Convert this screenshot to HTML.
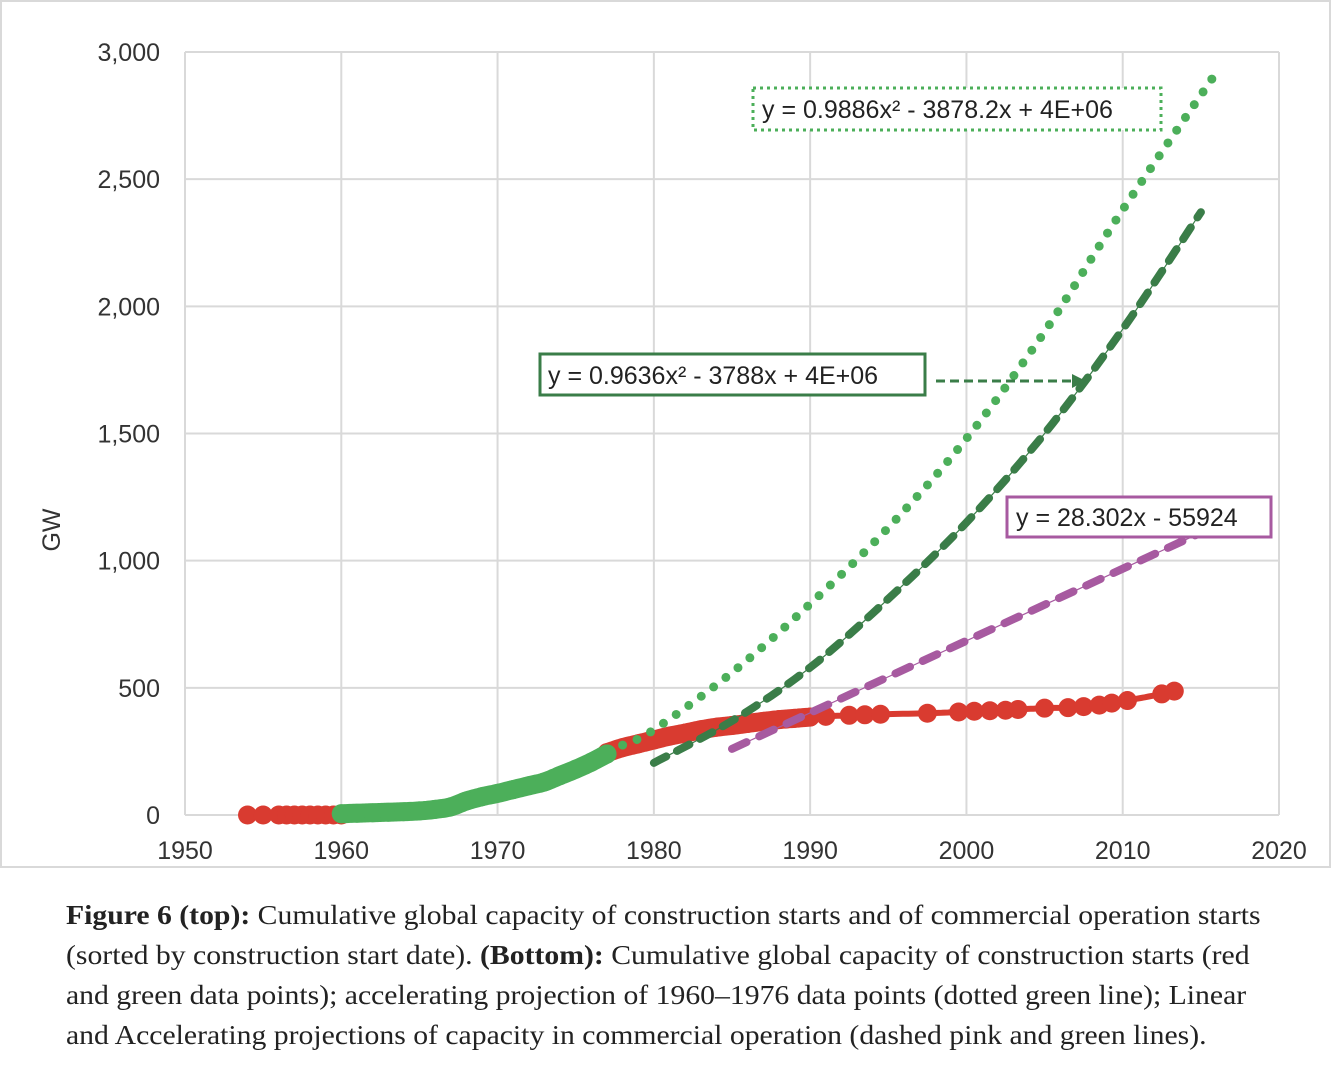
<!DOCTYPE html>
<html><head><meta charset="utf-8"><style>
body{margin:0;background:#fff;width:1331px;height:1068px;overflow:hidden;font-family:"Liberation Sans",sans-serif}
#cap{position:absolute;left:66px;top:895px;font-family:"Liberation Serif",serif;font-size:27px;line-height:40px;color:#222;white-space:nowrap;transform:scaleX(1.1);transform-origin:0 0}
</style></head><body>
<svg id="chart" width="1331" height="870" style="position:absolute;left:0;top:0">
<rect x="1" y="1" width="1329" height="866" fill="#fff" stroke="#d9d9d9" stroke-width="2"/>
<g id="grid"></g><g id="marks"></g><g id="labels"></g>
</svg>
<div id="cap"><b>Figure 6 (top):</b> Cumulative global capacity of construction starts and of commercial operation starts<br>(sorted by construction start date). <b>(Bottom):</b> Cumulative global capacity of construction starts (red<br>and green data points); accelerating projection of 1960–1976 data points (dotted green line); Linear<br>and Accelerating projections of capacity in commercial operation (dashed pink and green lines).</div>
<script>
const xTicks=[1950,1960,1970,1980,1990,2000,2010,2020];
const yTicks=[0,500,1000,1500,2000,2500,3000];
const yTickLabels=["0","500","1,000","1,500","2,000","2,500","3,000"];
const redYears=[1954,1955,1956,1956.5,1957,1957.5,1958,1958.5,1959,1959.5,1960,1977,1978,1979,1980,1981,1982,1983,1984,1985,1986,1987,1988,1989,1990,1991,1992.5,1993.5,1994.5,1997.5,1999.5,2000.5,2001.5,2002.5,2003.3,2005,2006.5,2007.5,2008.5,2009.3,2010.3,2012.5,2013.3];
const redValues=[0,0,0,0,0,0,0,0,0,0,0,245,265,280,295,310,322,335,345,352,360,368,375,380,385,388,392,394,396,400,405,408,410,412,415,420,422,426,432,440,450,476,487];
const greenYears=[1960,1961,1962,1963,1964,1965,1966,1967,1968,1969,1970,1971,1972,1973,1974,1975,1976,1977];
const greenValues=[5,7,9,11,13,16,22,32,55,72,85,100,115,130,155,180,208,240];
const dotYears=[1978,1980,1985,1990,1995,2000,2005,2010,2016];
const dotValues=[275,335,560,830,1130,1480,1900,2380,2920];
const dashYears=[1980,1985,1990,1995,2000,2005,2010,2015];
const dashValues=[205,370,580,850,1150,1500,1910,2370];
const linYears=[1985,2015];
const linValues=[260,1110];
const NS="http://www.w3.org/2000/svg";
const X=v=>185+(v-1950)*(1279-185)/70;
const Y=v=>815-v*(815-52)/3000;
function mk(p,t,a){const e=document.createElementNS(NS,t);for(const k in a)e.setAttribute(k,a[k]);p.appendChild(e);return e;}
const grid=document.getElementById('grid'),marks=document.getElementById('marks'),lab=document.getElementById('labels');
xTicks.forEach(t=>{const l=mk(grid,'line',{x1:X(t),x2:X(t),y1:52,y2:815,stroke:'#d9d9d9','stroke-width':2});

const tx=mk(lab,'text',{x:X(t),y:859,'text-anchor':'middle','font-size':25,fill:'#333'});tx.textContent=t;
});
yTicks.forEach((t,i)=>{const l=mk(grid,'line',{x1:185,x2:1279,y1:Y(t),y2:Y(t),stroke:'#d9d9d9','stroke-width':2});

const tx=mk(lab,'text',{x:160,y:Y(t)+9,'text-anchor':'end','font-size':25,fill:'#333'});tx.textContent=yTickLabels[i];
});
const yt=mk(lab,'text',{x:0,y:0,transform:'translate(60,530) rotate(-90)','text-anchor':'middle','font-size':25,fill:'#333'});yt.textContent='GW';

function smooth(xs,ys){let pts=[];for(let i=0;i<xs.length-1;i++){const n=10;for(let k=0;k<n;k++){const t=k/n;
const i0=Math.max(i-1,0),i3=Math.min(i+2,xs.length-1);const p=[i0,i,i+1,i3].map(j=>[X(xs[j]),Y(ys[j])]);
const c=(a,b,c2,d)=>0.5*((2*b)+(-a+c2)*t+(2*a-5*b+4*c2-d)*t*t+(-a+3*b-3*c2+d)*t*t*t);
pts.push([c(p[0][0],p[1][0],p[2][0],p[3][0]),c(p[0][1],p[1][1],p[2][1],p[3][1])]);}}
pts.push([X(xs[xs.length-1]),Y(ys[ys.length-1])]);return 'M'+pts.map(p=>p[0].toFixed(1)+','+p[1].toFixed(1)).join('L');}
const rl=mk(marks,'path',{d:smooth(redYears.slice(11),redValues.slice(11)),fill:'none',stroke:'#d93b30','stroke-width':6});

redYears.forEach((yr,i)=>{const c=mk(marks,'circle',{cx:X(yr),cy:Y(redValues[i]),r:9.5,fill:'#d93b30'});
});
const rb=mk(marks,'path',{d:smooth(redYears.slice(11,25),redValues.slice(11,25)),fill:'none',stroke:'#d93b30','stroke-width':19,'stroke-linecap':'round'});

const gb=mk(marks,'path',{d:smooth(greenYears,greenValues),fill:'none',stroke:'#4caf5a','stroke-width':19,'stroke-linecap':'round'});

greenYears.forEach((yr,i)=>{const c=mk(marks,'circle',{cx:X(yr),cy:Y(greenValues[i]),r:9.5,fill:'#4caf5a'});
});
const dt=mk(marks,'path',{d:smooth(dotYears,dotValues),fill:'none',stroke:'#4caf5a','stroke-width':9,'stroke-dasharray':'0 15.5','stroke-linecap':'round'});

const ds0=mk(marks,'path',{d:smooth(dashYears,dashValues),fill:'none',stroke:'#3a7d48','stroke-width':1.2});

const ds=mk(marks,'path',{d:smooth(dashYears,dashValues),fill:'none',stroke:'#3a7d48','stroke-width':8,'stroke-dasharray':'14 12','stroke-linecap':'round'});

const ln0=mk(marks,'line',{x1:X(linYears[0]),y1:Y(linValues[0]),x2:X(linYears[1]),y2:Y(linValues[1]),stroke:'#a75aa0','stroke-width':1.2});

const ln=mk(marks,'line',{x1:X(linYears[0]),y1:Y(linValues[0]),x2:X(linYears[1]),y2:Y(linValues[1]),stroke:'#a75aa0','stroke-width':8,'stroke-dasharray':'16 14','stroke-linecap':'round'});

</script>
<svg width="1331" height="870" style="position:absolute;left:0;top:0">
<g>
<rect x="753" y="88" width="408" height="42" fill="#fff" stroke="#4caf5a" stroke-width="3" stroke-dasharray="3 4"/>
<text x="762" y="118" font-size="25" fill="#222">y = 0.9886x² - 3878.2x + 4E+06</text></g>
<g>
<rect x="540" y="354" width="385" height="41" fill="#fff" stroke="#3a7d48" stroke-width="3"/>
<text x="548" y="384" font-size="25" fill="#222">y = 0.9636x² - 3788x + 4E+06</text>
<line x1="936" y1="381" x2="1072" y2="381" stroke="#3a7d48" stroke-width="3" stroke-dasharray="9 5"/>
<polygon points="1072,374 1086,381 1072,388" fill="#3a7d48"/></g>
<g>
<rect x="1007" y="497" width="264" height="40" fill="#fff" stroke="#a75aa0" stroke-width="3"/>
<text x="1016" y="526" font-size="25" fill="#222">y = 28.302x - 55924</text></g>
</svg>
</body></html>
